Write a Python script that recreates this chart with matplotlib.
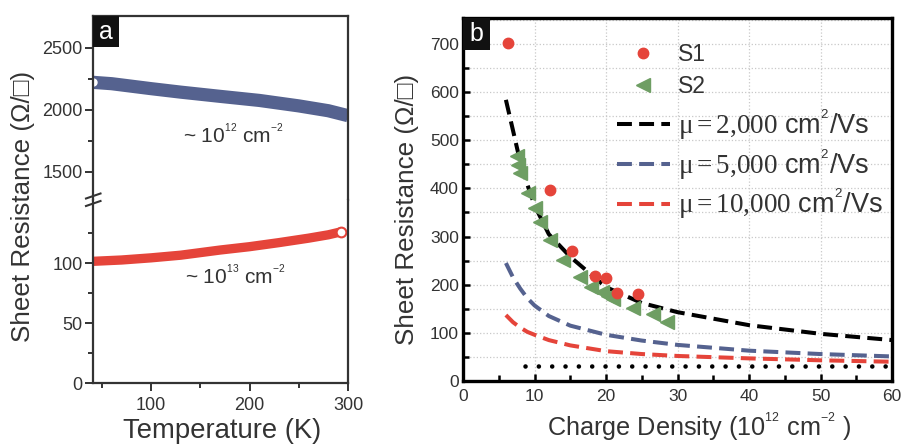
import matplotlib
matplotlib.use('Agg')
import matplotlib.pyplot as plt
from matplotlib.lines import Line2D
from matplotlib.patches import Rectangle

plt.rcParams['font.family'] = ['Liberation Sans', 'DejaVu Sans']
plt.rcParams['mathtext.fontset'] = 'custom'
plt.rcParams['mathtext.rm'] = 'Liberation Serif'
plt.rcParams['mathtext.it'] = 'Liberation Serif:italic'
plt.rcParams['mathtext.sf'] = 'Liberation Sans'
plt.rcParams['mathtext.bf'] = 'Liberation Sans:bold'

# ---------------- Panel a data ----------------
temp_hi = [41, 60, 80, 100, 130, 170, 210, 250, 280, 300]
res_hi = [2221, 2210, 2190, 2170, 2142, 2108, 2075, 2031, 1992, 1952]
temp_lo = [41, 70, 100, 130, 170, 200, 230, 260, 280, 293]
res_lo = [101.4, 102.5, 104.3, 106.5, 110.8, 113.6, 117, 120.7, 123.5, 126]

# ---------------- Panel b data ----------------
s1_n = [6.3, 12.2, 15.2, 18.5, 20.0, 21.5, 24.5]
s1_r = [703, 396, 269, 218, 213, 183, 180]
s2_n = [7.5, 7.7, 8.0, 9.1, 10.1, 10.7, 12.1, 14.0, 16.3, 17.9, 19.5, 20.3, 21.0, 23.8, 26.6, 28.5]
s2_r = [468, 449, 432, 390, 359, 330, 292, 252, 215, 195, 185, 177, 170, 151, 139, 123]
model_n = [6, 7, 8, 9, 10, 12, 15, 20, 25, 30, 40, 50, 60]
mu2000_r = [584, 520, 455, 408, 365, 305, 258, 195, 162, 143, 116, 98, 85]
mu5000_r = [245, 215, 192, 172, 157, 135, 115, 96, 84, 75, 63, 56, 51]
mu10000_r = [137, 122, 111, 102, 96, 85, 74, 62, 56, 52, 47, 43, 40]
floor_n = [8.7, 60]
floor_r = [31, 31]

SUP2 = r"$^{{}^{\mathsf{2}}}$"
mu_labels = [r"$\mathrm{\mu = 2{,}000}$ cm" + SUP2 + "/Vs",
             r"$\mathrm{\mu = 5{,}000}$ cm" + SUP2 + "/Vs",
             r"$\mathrm{\mu = 10{,}000}$ cm" + SUP2 + "/Vs"]
sample_labels = ['S1', 'S2']

BLUE = '#55628f'
RED = '#e5443a'
GREEN = '#6e9e63'
GRAY = '#333333'

W, H = 911, 448
fig = plt.figure(figsize=(W / 100, H / 100), dpi=100)


def fr(l, t, r, b):
    return [l / W, 1 - b / H, (r - l) / W, (b - t) / H]


ax_up = fig.add_axes(fr(93, 16, 348, 200))
ax_lo = fig.add_axes(fr(93, 200, 348, 383))
axb = fig.add_axes(fr(463, 18, 892, 381))

# ---------------- Panel a ----------------
for ax in (ax_up, ax_lo):
    for s in ax.spines.values():
        s.set_color(GRAY)
        s.set_linewidth(1.6)
    ax.tick_params(which='both', direction='out', color=GRAY, labelcolor=GRAY,
                   labelsize=13, width=1.4, pad=1.5)
    ax.tick_params(which='major', length=6)
    ax.tick_params(which='minor', length=3.5)
    ax.set_xlim(41, 300)
ax_up.spines['bottom'].set_visible(False)
ax_lo.spines['top'].set_visible(False)
ax_up.tick_params(axis='x', which='both', bottom=False, labelbottom=False)
ax_up.set_ylim(1272, 2756)
ax_up.set_yticks([1500, 2000, 2500])
ax_up.set_yticks([1750, 2250], minor=True)
ax_lo.set_ylim(0, 152.5)
ax_lo.set_yticks([0, 50, 100])
ax_lo.set_yticks([25, 75, 125], minor=True)
ax_lo.set_xticks([100, 200, 300])
ax_lo.set_xticks([50, 150, 250], minor=True)
ax_lo.tick_params(axis='x', pad=4)

ax_up.plot(temp_hi, res_hi, color=BLUE, lw=9.5, solid_capstyle='butt')
ax_up.plot(temp_hi[0] + 0.5, res_hi[0], 'o', mfc='white', mec='white', ms=5)
ax_lo.plot(temp_lo, res_lo, color=RED, lw=6.7, solid_capstyle='butt')
ax_lo.plot(temp_lo[-1], res_lo[-1], 'o', mfc='white', mec=RED, ms=7, mew=1.5)

ax_up.text(184, 1790, r"~ 10$^{{}^{\mathsf{12}}}$ cm$^{{}^{\mathsf{-2}}}$", ha='center',
           va='center', fontsize=15, color=GRAY)
ax_lo.text(186, 89, r"~ 10$^{{}^{\mathsf{13}}}$ cm$^{{}^{\mathsf{-2}}}$", ha='center',
           va='center', fontsize=15, color=GRAY)

# break marks on the left spine
for yb in (196, 203.5):
    fig.add_artist(Line2D([86 / W, 100.5 / W], [1 - (yb + 2.5) / H, 1 - (yb - 2.5) / H],
                          transform=fig.transFigure, color=GRAY, lw=1.5))

# panel label a
fig.add_artist(Rectangle((93 / W, 1 - 47 / H), 26 / W, 31 / H, transform=fig.transFigure,
                         facecolor='#111111', edgecolor='none'))
fig.text(106 / W, 1 - 32 / H, 'a', color='white', fontsize=18, ha='center', va='center')

fig.text(23 / W, 1 - 206.5 / H, "Sheet Resistance (Ω/□)", rotation=90, ha='center',
         va='center', fontsize=18.7, color=GRAY)
fig.text(222 / W, 1 - 431 / H, "Temperature (K)", ha='center', va='center',
         fontsize=19.8, color=GRAY)

# ---------------- Panel b ----------------
for s in axb.spines.values():
    s.set_color('black')
    s.set_linewidth(2.4)
axb.set_xlim(0, 60)
axb.set_ylim(0, 754)
axb.set_xticks(range(0, 61, 10))
axb.set_xticks(range(5, 60, 10), minor=True)
axb.set_yticks(range(0, 701, 100))
axb.set_yticks(range(50, 751, 100), minor=True)
axb.tick_params(which='both', direction='in', color='black', labelcolor=GRAY,
                labelsize=12.5, width=1.8)
axb.tick_params(which='major', length=5)
axb.tick_params(which='minor', length=4)
axb.tick_params(axis='x', pad=6)
axb.tick_params(axis='y', pad=3)
axb.grid(True, axis='x', which='major', color='#c8c8c8', ls=':', lw=0.9)
axb.grid(True, axis='y', which='both', color='#c8c8c8', ls=':', lw=0.9)
axb.set_axisbelow(True)

lw = 2.9
l2000, = axb.plot(model_n, mu2000_r, color='black', lw=lw, dashes=(3.7, 1.8))
l5000, = axb.plot(model_n, mu5000_r, color=BLUE, lw=lw, dashes=(3.7, 1.8))
l10000, = axb.plot(model_n, mu10000_r, color=RED, lw=lw, dashes=(3.7, 1.8))
axb.plot(floor_n, floor_r, color='black', lw=3.3, dashes=(0.01, 2.9),
         dash_capstyle='round')
p2, = axb.plot(s2_n, s2_r, '<', color=GREEN, ms=9.5, ls='none', zorder=4)
p1, = axb.plot(s1_n, s1_r, 'o', color=RED, ms=7.5, ls='none', zorder=5)

leg1 = axb.legend([p1, p2], sample_labels,
                  loc='upper left', bbox_to_anchor=(0.359, 0.931), frameon=False,
                  fontsize=16.5, handlelength=2.3, handletextpad=0.35,
                  labelspacing=0.38, borderpad=0, borderaxespad=0)
for t in leg1.get_texts():
    t.set_color(GRAY)
axb.add_artist(leg1)
leg2 = axb.legend([l2000, l5000, l10000], mu_labels,
                  loc='upper left', bbox_to_anchor=(0.359, 0.755), frameon=False,
                  fontsize=19.5, handlelength=1.95, handletextpad=0.3,
                  labelspacing=0.185, borderpad=0, borderaxespad=0)
for t in leg2.get_texts():
    t.set_color(GRAY)

fig.add_artist(Rectangle((463 / W, 1 - 50 / H), 27 / W, 32 / H, transform=fig.transFigure,
                         facecolor='#111111', edgecolor='none'))
fig.text(476.5 / W, 1 - 34 / H, 'b', color='white', fontsize=18, ha='center', va='center')

fig.text(407 / W, 1 - 209 / H, "Sheet Resistance (Ω/□)", rotation=90, ha='center',
         va='center', fontsize=18.7, color=GRAY)
fig.text(699 / W, 1 - 427 / H,
         r"Charge Density (10$^{{}^{\mathsf{12}}}$ cm$^{{}^{\mathsf{-2}}}$ )",
         ha='center', va='center', fontsize=18.2, color=GRAY)

fig.savefig('out.png', dpi=100)
